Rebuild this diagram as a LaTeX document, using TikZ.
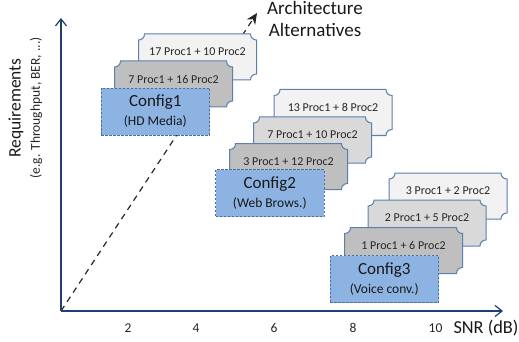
\documentclass[tikz,border=0pt]{standalone}
\usepackage{fontspec}
\setmainfont{Carlito}
\usetikzlibrary{arrows.meta}
\definecolor{axisblue}{HTML}{1F3F6E}
\definecolor{plaqueline}{HTML}{5B80AC}
\definecolor{configfill}{HTML}{8DB3E2}
\definecolor{configline}{HTML}{4A6FA5}
\definecolor{tonea}{HTML}{F2F2F2}
\definecolor{toneb}{HTML}{D9D9D9}
\definecolor{tonec}{HTML}{BFBFBF}
\tikzset{
  axisline/.style={draw=axisblue,line width=1.3pt,-{Straight Barb[length=7pt,width=11pt,line width=1.2pt]}},
  plaquebody/.style={draw=plaqueline,line width=1pt},
  plaquetext/.style={font=\fontsize{12}{14}\selectfont,text=black!85,inner sep=0pt},
  configbox/.style={draw=configline,fill=configfill,dashed,dash pattern=on 2.5pt off 1.5pt,line width=0.8pt,minimum width=108.5pt,minimum height=47pt,inner sep=0pt,align=center,font=\fontsize{17}{21}\selectfont,text=black!90},
  ticklabel/.style={font=\fontsize{13.5}{16}\selectfont,text=black!85,inner sep=0pt},
}
% #1 name, #2 left, #3 top, #4 fill, #5 text
\newcommand{\plaque}[5]{%
  \def\xl{#2}\def\yt{#3}%
  \pgfmathsetmacro{\xr}{#2+118}\pgfmathsetmacro{\yb}{#3+46}%
  \path[plaquebody,fill=#4]
    (\xl+6,\yt) -- (\xr-6,\yt)
    .. controls (\xr-6,\yt+3.5) and (\xr-3.5,\yt+6) .. (\xr,\yt+6)
    -- (\xr,\yb-6)
    .. controls (\xr-3.5,\yb-6) and (\xr-6,\yb-3.5) .. (\xr-6,\yb)
    -- (\xl,\yb) -- (\xl,\yt+6)
    .. controls (\xl+3.5,\yt+6) and (\xl+6,\yt+3.5) .. (\xl+6,\yt) -- cycle;
  \node[plaquetext] (#1) at (\xl+59,\yt+18) {#5};
}
\newcommand{\configbox}[5]{%
  \node[configbox] (#1) at (#2+54.25,#3+23.5) {\raisebox{-1pt}{#4}\\[-2pt]\raisebox{-1pt}{\fontsize{13.5}{15}\selectfont #5}};
}
\begin{document}
\begin{tikzpicture}[x=1pt,y=-1pt]
\useasboundingbox (0,0) rectangle (519,342);
\fill[white] (0,0) rectangle (519,342);
\coordinate (origin) at (61,311);
\coordinate (ytop) at (61,18);
\coordinate (xend) at (503,311);
\coordinate (diag) at (257,13);
\draw[black!85,line width=1.2pt,dash pattern=on 6pt off 5pt,-{Stealth[length=11pt,width=10pt]}] (origin) -- (diag);
\draw[axisline] (origin) -- (ytop);
\draw[axisline] (origin) -- (xend);

\plaque{pa}{138.5}{34}{tonea}{17 Proc1 + 10 Proc2}
\plaque{pb}{114.5}{61}{tonec}{7 Proc1 + 16 Proc2}
\configbox{ca}{101}{88}{Config1}{(HD Media)}

\plaque{pc}{274}{89.5}{tonea}{13 Proc1 + 8 Proc2}
\plaque{pd}{253.5}{117}{toneb}{7 Proc1 + 10 Proc2}
\plaque{pe}{229.5}{143.5}{tonec}{3 Proc1 + 12 Proc2}
\configbox{cb}{215.5}{169.5}{Config2}{(Web Brows.)}

\plaque{pf}{389}{173}{tonea}{3 Proc1 + 2 Proc2}
\plaque{pg}{368}{200}{toneb}{2 Proc1 + 5 Proc2}
\plaque{ph}{344.5}{227.5}{tonec}{1 Proc1 + 6 Proc2}
\configbox{cc}{330}{255.5}{Config3}{(Voice conv.)}

\node[ticklabel] (t2) at (128,328) {2};
\node[ticklabel] (t4) at (196,328) {4};
\node[ticklabel] (t6) at (274,328) {6};
\node[ticklabel] (t8) at (353,328) {8};
\node[ticklabel] (t10) at (435.5,328) {10};
\node[font=\fontsize{18.3}{20}\selectfont,text=black!90,inner sep=0pt] (snr) at (486,328) {SNR (dB)};
\node[font=\fontsize{19}{22}\selectfont,text=black!90,align=center,inner sep=0pt] (arch) at (315,19) {Architecture\\Alternatives};
\node[rotate=90,font=\fontsize{17.5}{20}\selectfont,text=black!90,inner sep=0pt] (req) at (16,108) {Requirements};
\node[rotate=90,font=\fontsize{13.5}{15}\selectfont,text=black!85,inner sep=0pt] (reqs) at (36,108) {(e.g. Throughput, BER, ...)};
\end{tikzpicture}
\end{document}
